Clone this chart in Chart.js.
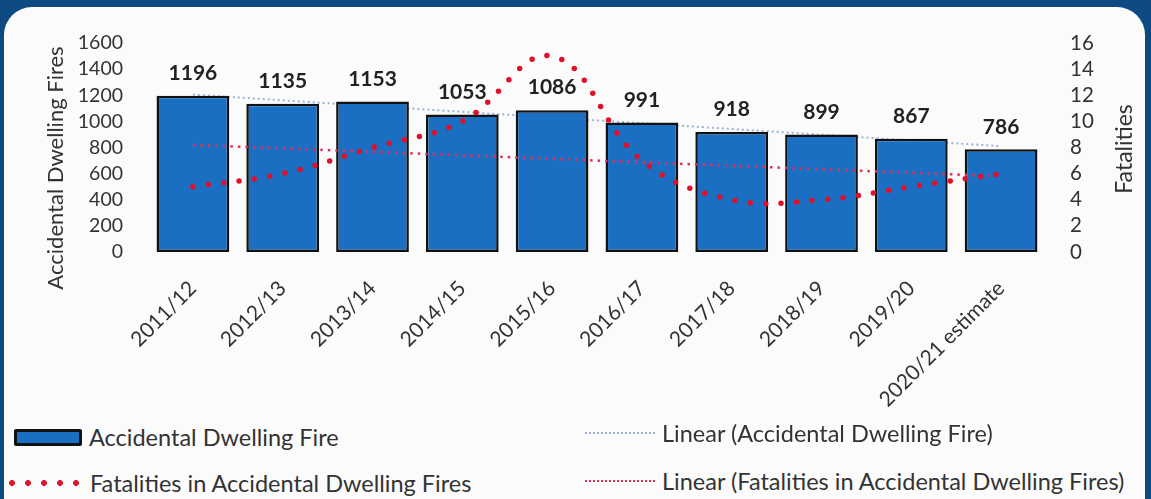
<!DOCTYPE html>
<html lang="en">
<head>
<meta charset="UTF-8">
<title>Accidental Dwelling Fires and Fatalities</title>
<script src="https://cdn.jsdelivr.net/npm/chart.js"></script>
<style>
    html, body { margin: 0; padding: 0; }
    body {
        width: 1151px; height: 499px; overflow: hidden; position: relative;
        background: #0e4a82; font-family: Lato, "Open Sans", sans-serif;
    }
    .panel {
        position: absolute; left: 4px; top: 7px; right: 6px; bottom: 0;
        background: #fbfbfb; border-radius: 28px 28px 0 0;
    }
    #chart { position: absolute; left: 0; top: 0; }
    .legend-item {
        position: absolute; display: flex; align-items: center;
        font-size: 23.5px; color: #333; white-space: nowrap; height: 30px;
    }
    .sw-bar { width: 62px; height: 11px; border: 3px solid #111; background: #1b6fc2; border-radius: 2px; margin-right: 7px; }
    .sw-dots {
        width: 80px; height: 8px; margin-right: 6px;
        background: radial-gradient(circle, #e0102a 2.6px, transparent 3.2px) 0 0 / 16px 8px repeat-x;
    }
    .sw-line { width: 70px; height: 0; border-top: 2px dotted; margin-right: 7px; }
</style>
</head>
<body>
<div class="panel"></div>
<canvas id="chart" width="1151" height="420"></canvas>

<div class="legend-item" style="left:14px; top:422px;"><div class="sw-bar"></div>Accidental Dwelling Fire</div>
<div class="legend-item" style="left:4px; top:468px;"><div class="sw-dots"></div>Fatalities in Accidental Dwelling Fires</div>
<div class="legend-item" style="left:585px; top:418px;"><div class="sw-line" style="border-color:#9fb2d6;"></div>Linear (Accidental Dwelling Fire)</div>
<div class="legend-item" style="left:585px; top:466px;"><div class="sw-line" style="border-color:#e0305a;"></div>Linear (Fatalities in Accidental Dwelling Fires)</div>

<script>
    const years = ['2011/12', '2012/13', '2013/14', '2014/15', '2015/16', '2016/17', '2017/18', '2018/19', '2019/20', '2020/21 estimate'];
    const fires = [1196, 1135, 1153, 1053, 1086, 991, 918, 899, 867, 786];
    const fatalities = [5, 6, 8, 10, 15, 7, 4, 4, 5, 6];
    // trend line end points
    const fireTrend = [1205, null, null, null, null, null, null, null, null, 810];
    const fatalTrend = [8.2, null, null, null, null, null, null, null, null, 5.8];
    const fireTicks = [0, 200, 400, 600, 800, 1000, 1200, 1400, 1600];
    const fatalTicks = [0, 2, 4, 6, 8, 10, 12, 14, 16];

    const FONT = 'Lato, "Open Sans", sans-serif';

    // value labels above the bars and the two axis titles
    const extras = {
        id: 'extras',
        afterDatasetsDraw(chart) {
            const ctx = chart.ctx;
            const meta = chart.getDatasetMeta(2);
            ctx.save();
            ctx.fillStyle = '#222';
            ctx.font = 'bold 21px ' + FONT;
            ctx.textAlign = 'center';
            ctx.textBaseline = 'bottom';
            meta.data.forEach((bar, i) => {
                ctx.fillText(fires[i], bar.x, bar.y - 12);
            });

            ctx.fillStyle = '#333';
            ctx.font = '22px ' + FONT;
            ctx.textBaseline = 'middle';
            ctx.translate(56, 168);
            ctx.rotate(-Math.PI / 2);
            ctx.fillText('Accidental Dwelling Fires', 0, 0);
            ctx.restore();

            ctx.save();
            ctx.fillStyle = '#333';
            ctx.font = '23px ' + FONT;
            ctx.textAlign = 'center';
            ctx.textBaseline = 'middle';
            ctx.translate(1125, 149);
            ctx.rotate(-Math.PI / 2);
            ctx.fillText('Fatalities', 0, 0);
            ctx.restore();
        }
    };

    new Chart(document.getElementById('chart').getContext('2d'), {
        type: 'bar',
        data: {
            labels: years,
            datasets: [
                {
                    type: 'line',
                    label: 'Fatalities in Accidental Dwelling Fires',
                    data: fatalities,
                    yAxisID: 'y1',
                    borderColor: '#e0102a',
                    borderWidth: 5.5,
                    borderDash: [0, 15.5],
                    borderCapStyle: 'round',
                    tension: 0.4,
                    pointRadius: 0,
                    fill: false,
                    order: 1
                },
                {
                    type: 'line',
                    label: 'Linear (Fatalities in Accidental Dwelling Fires)',
                    data: fatalTrend,
                    yAxisID: 'y1',
                    spanGaps: true,
                    borderColor: '#e0305a',
                    borderWidth: 2.5,
                    borderDash: [2.5, 5],
                    pointRadius: 0,
                    fill: false,
                    order: 2
                },
                {
                    label: 'Accidental Dwelling Fire',
                    data: fires,
                    yAxisID: 'y',
                    backgroundColor: '#1b6fc2',
                    borderColor: '#111',
                    borderWidth: 2.5,
                    borderSkipped: false,
                    categoryPercentage: 1,
                    barPercentage: 0.81,
                    order: 3
                },
                {
                    type: 'line',
                    label: 'Linear (Accidental Dwelling Fire)',
                    data: fireTrend,
                    yAxisID: 'y',
                    spanGaps: true,
                    borderColor: '#9fb2d6',
                    borderWidth: 2,
                    borderDash: [2, 3],
                    pointRadius: 0,
                    fill: false,
                    order: 4
                }
            ]
        },
        options: {
            responsive: false,
            animation: false,
            layout: { padding: { top: 43, left: 0, right: 0, bottom: 0 } },
            plugins: {
                legend: { display: false },
                tooltip: { enabled: false }
            },
            scales: {
                x: {
                    grid: { display: false },
                    border: { display: false },
                    ticks: {
                        color: '#333',
                        font: { family: FONT, size: 21 },
                        minRotation: 45,
                        maxRotation: 45,
                        autoSkip: false,
                        padding: 16
                    },
                    afterFit(scale) { scale.height = 168; }
                },
                y: {
                    position: 'left',
                    min: 0,
                    max: 1600,
                    afterBuildTicks(scale) { scale.ticks = fireTicks.map(v => ({ value: v })); },
                    grid: { display: false, drawTicks: false },
                    border: { display: false },
                    ticks: {
                        color: '#333',
                        font: { family: FONT, size: 19.5 },
                        padding: 25,
                        autoSkip: false,
                        callback: v => String(v)
                    },
                    afterFit(scale) { scale.width = 148; }
                },
                y1: {
                    position: 'right',
                    min: 0,
                    max: 16,
                    afterBuildTicks(scale) { scale.ticks = fatalTicks.map(v => ({ value: v })); },
                    grid: { display: false, drawTicks: false },
                    border: { display: false },
                    ticks: {
                        color: '#333',
                        font: { family: FONT, size: 20.5 },
                        padding: 24,
                        autoSkip: false,
                        callback: v => String(v)
                    },
                    afterFit(scale) { scale.width = 105; }
                }
            }
        },
        plugins: [extras]
    });
</script>
</body>
</html>
